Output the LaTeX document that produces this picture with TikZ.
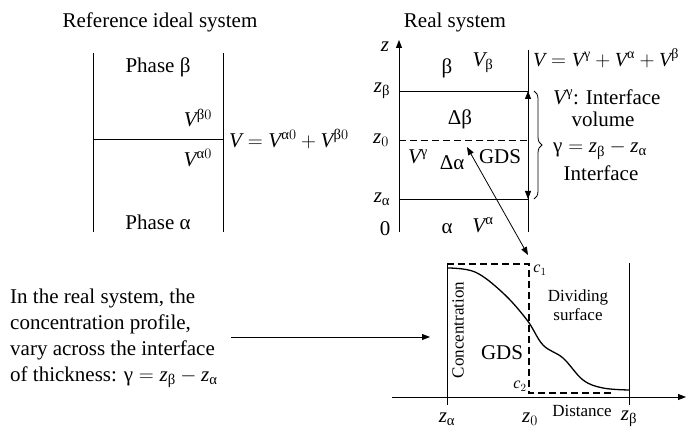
\documentclass[tikz,border=0pt]{standalone}
\usepackage{amsmath}
\usepackage{fontspec}
\setmainfont{Liberation Serif}
\usetikzlibrary{arrows.meta,decorations.pathreplacing}
\newcommand{\gra}{\text{α}}
\newcommand{\grb}{\text{β}}
\newcommand{\grg}{\text{γ}}
\newcommand{\Vv}{\mathit{V}}
\newcommand{\zz}{\mathit{z}}
\newcommand{\cc}{\mathit{c}}
\begin{document}
\begin{tikzpicture}[x=1pt,y=-1pt,
  every node/.style={font=\fontsize{21}{26}\selectfont, inner sep=0pt},
  mid/.style={font=\fontsize{20}{24}\selectfont},
  small/.style={font=\fontsize{17}{19}\selectfont},
  tiny/.style={font=\fontsize{16}{18}\selectfont},
  ln/.style={line width=0.8pt},
  tip/.style={line width=0.8pt,-{Triangle[length=8pt,width=6pt]}},
  dtip/.style={line width=0.8pt,{Triangle[length=8pt,width=6pt]}-{Triangle[length=8pt,width=6pt]}},
  dsh/.style={line width=0.8pt,dash pattern=on 7pt off 4pt},
  tdsh/.style={line width=1.3pt,dash pattern=on 7pt off 4pt}]
\useasboundingbox (0,0) rectangle (687,427);

% ---------- Reference ideal system ----------
\coordinate (lt) at (93,53); \coordinate (lb) at (93,232);
\coordinate (rt) at (223,53); \coordinate (rb) at (223,232);
\coordinate (lm) at (93,139); \coordinate (rm) at (223,139);
\draw[ln] (lt) -- (lb);
\draw[ln] (rt) -- (rb);
\draw[ln] (lm) -- (rm);
\node (t1) at (160,22) {Reference ideal system};
\node (pb) at (158,67) {Phase β};
\node[anchor=east] (vb0) at (212,118) {$\Vv^{\grb0}$};
\node[anchor=east] (va0) at (212,158) {$\Vv^{\gra0}$};
\node (pa) at (158,222) {Phase α};
\node[anchor=west] (veq) at (229,139) {$\Vv=\Vv^{\gra0}+\Vv^{\grb0}$};

% ---------- Real system ----------
\node (t2) at (455,22) {Real system};
\coordinate (zb) at (399,232); \coordinate (ztop) at (399,40);
\coordinate (rrt) at (528,50); \coordinate (rrb) at (528,232);
\coordinate (zbl) at (399,91); \coordinate (zbr) at (528,91);
\coordinate (z0l) at (399,140); \coordinate (z0r) at (528,140);
\coordinate (zal) at (399,199); \coordinate (zar) at (528,199);
\draw[tip] (zb) -- (ztop);
\draw[ln] (rrt) -- (rrb);
\draw[ln] (zbl) -- (zbr);
\draw[dsh] (z0l) -- (z0r);
\draw[ln] (zal) -- (zar);
\draw[dtip] (zbr) -- (zar);
\node (zlab) at (385,47) {$\zz$};
\node (zbeta) at (382,91) {$\zz_{\grb}$};
\node (zzero) at (381,140) {$\zz_0$};
\node (zalpha) at (382,199) {$\zz_{\gra}$};
\node (zero) at (385,229) {0};
\node (beta) at (447,68) {β};
\node (vbeta) at (483,63) {$\Vv_{\grb}$};
\node (dbeta) at (460,119) {Δβ};
\node (vgam) at (418,157) {$\Vv^{\grg}$};
\node (dalpha) at (452,163) {Δα};
\node (gds1) at (500,157) {GDS};
\node (alpha) at (447,229) {α};
\node (valpha) at (483,225) {$\Vv^{\gra}$};
\coordinate (brt) at (534,91); \coordinate (brb) at (534,199);
\draw[ln,decorate,decoration={brace,amplitude=8pt}] (brt) -- (brb);
\node[mid,anchor=west] (vtot) at (533,58) {$\Vv=\Vv^{\grg}+\Vv^{\gra}+\Vv^{\grb}$};
\node[anchor=west] (vif) at (553,97) {$\Vv^{\grg}$: Interface};
\node (vol) at (603,119) {volume};
\node[anchor=west] (geq) at (553,150) {$\grg=\zz_{\grb}-\zz_{\gra}$};
\node (intf) at (601,173) {Interface};
\coordinate (da1) at (467,147); \coordinate (da2) at (528,255);
\draw[dtip] (da1) -- (da2);

% ---------- Concentration profile ----------
\coordinate (ax0) at (392,397); \coordinate (ax1) at (686,397);
\draw[tip] (ax0) -- (ax1);
\coordinate (pla) at (447,263); \coordinate (plb) at (447,405);
\coordinate (pra) at (629,263); \coordinate (prb) at (629,405);
\draw[ln] (pla) -- (plb);
\draw[ln] (pra) -- (prb);
\draw[tdsh] (447,264) -- (529,264) -- (529,393) -- (613,393);
\draw[line width=1.3pt] plot[smooth,tension=0.6] coordinates {(447,268) (475,272) (503,293) (527,320) (543,345) (563,358) (583,380) (603,388) (629,390)};
\node[tiny] (c1) at (540,270) {$\cc_1$};
\node[tiny] (c2) at (520,386) {$\cc_2$};
\node[small,rotate=90] (conc) at (458,330) {Concentration};
\node (gds2) at (502,353) {GDS};
\node[small,align=center] (divs) at (578,305) {Dividing\\surface};
\node[small] (dist) at (582,411) {Distance};
\node (pza) at (447,419) {$\zz_{\gra}$};
\node (pz0) at (530,419) {$\zz_0$};
\node (pzb) at (629,419) {$\zz_{\grb}$};

% ---------- Left text ----------
\node[anchor=north west,align=left] (txt) at (10,289) {In the real system, the\\concentration profile,\\vary across the interface\\of thickness: $\grg=\zz_{\grb}-\zz_{\gra}$};
\coordinate (ar1) at (231,337); \coordinate (ar2) at (430,337);
\draw[tip] (ar1) -- (ar2);
\end{tikzpicture}
\end{document}
